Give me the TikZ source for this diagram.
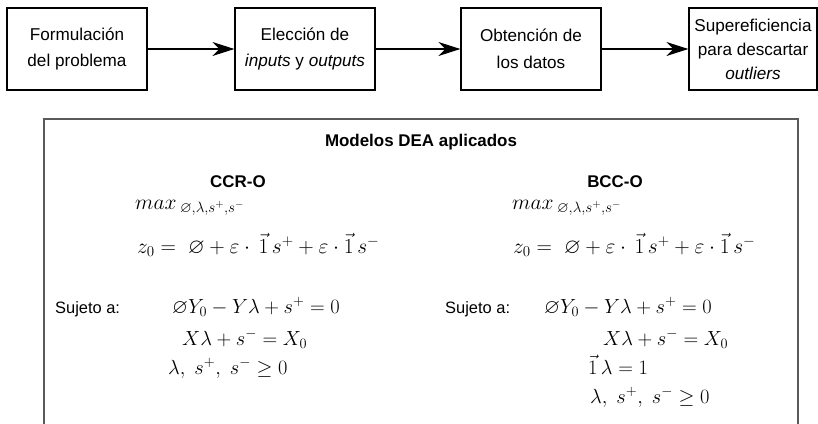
\RequirePackage{fix-cm}
\documentclass[tikz,border=0pt]{standalone}
\usepackage{amsmath,amssymb}
\usepackage{fontspec}
\setmainfont{Liberation Sans}
\usetikzlibrary{arrows.meta}
\definecolor{framegray}{HTML}{5A5A5A}
\tikzset{
  topbox/.style={draw, line width=1.2bp, minimum height=82bp, align=center, inner sep=0pt,
    font=\fontsize{17.2}{27}\selectfont},
  flow/.style={-{Stealth[length=22bp,width=14bp,inset=7bp]}, line width=1.2bp},
  lbl/.style={font=\fontsize{16.5}{20}\selectfont, inner sep=0pt},
  hd/.style={font=\bfseries\fontsize{17}{20}\selectfont, inner sep=0pt},
  eq/.style={font=\fontsize{20.5}{24}\selectfont, inner sep=0pt, anchor=base west},
  bigeq/.style={eq, font=\fontsize{21.5}{24}\selectfont},
  frame/.style={draw=framegray, line width=1.5bp}
}
\begin{document}
\begin{tikzpicture}[x=1bp,y=-1bp]
\useasboundingbox (0,0) rectangle (818,423);
% flow boxes
\node[topbox, minimum width=140bp] (b1) at (77,49) {Formulación\\del problema};
\node[topbox, minimum width=140bp] (b2) at (305,49) {Elección de\\\textit{inputs} y \textit{outputs}};
\node[topbox, minimum width=140bp] (b3) at (531,49) {Obtención de\\los datos};
\node[topbox, minimum width=128bp, font=\fontsize{17.2}{24}\selectfont] (b4) at (753,49) {Supereficiencia\\para descartar\\\textit{outliers}};
\draw[flow] (b1) -- (b2);
\draw[flow] (b2) -- (b3);
\draw[flow] (b3) -- (b4);
% frame
\coordinate (fbl) at (44,424);
\coordinate (ftl) at (44,119);
\coordinate (ftr) at (798,119);
\coordinate (fbr) at (798,424);
\draw[frame] (fbl) -- (ftl) -- (ftr) -- (fbr);
\node[hd] (title) at (421,142) {Modelos DEA aplicados};
\node[hd] (ccr) at (238,182) {CCR-O};
\node[hd] (bcc) at (615,182) {BCC-O};
% CCR-O
\node[bigeq] (cmax) at (135,209) {$max\,{}_{\varnothing,\lambda,s^+,s^-}$};
\node[bigeq] (cz) at (137,253) {$z_0 =\ \varnothing + \varepsilon\cdot\,\vec{1}\,s^+ + \varepsilon\cdot\vec{1}\,s^-$};
\node[lbl, anchor=base west] (csuj) at (55,313) {Sujeto a:};
\node[eq] (cc1) at (172,313) {$\varnothing Y_0 - Y\lambda + s^+ = 0$};
\node[eq] (cc2) at (182,345) {$X\lambda + s^- = X_0$};
\node[eq] (cc3) at (168,374) {$\lambda,\ s^+,\ s^- \geq 0$};
% BCC-O
\node[bigeq] (bmax) at (512,209) {$max\,{}_{\varnothing,\lambda,s^+,s^-}$};
\node[bigeq] (bz) at (513,253) {$z_0 =\ \varnothing + \varepsilon\cdot\,\vec{1}\,s^+ + \varepsilon\cdot\vec{1}\,s^-$};
\node[lbl, anchor=base west] (bsuj) at (445,313) {Sujeto a:};
\node[eq] (bc1) at (544,313) {$\varnothing Y_0 - Y\lambda + s^+ = 0$};
\node[eq] (bc2) at (603,345) {$X\lambda + s^- = X_0$};
\node[eq] (bc3) at (588,374) {$\vec{1}\,\lambda = 1$};
\node[eq] (bc4) at (590,403) {$\lambda,\ s^+,\ s^- \geq 0$};
\end{tikzpicture}
\end{document}
